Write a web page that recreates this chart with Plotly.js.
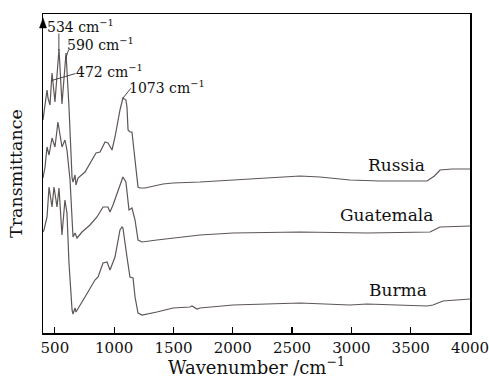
<!DOCTYPE html>
<html>
<head>
<meta charset="utf-8">
<script src="https://cdn.plot.ly/plotly-3.0.1.min.js"></script>
<style>html,body{margin:0;padding:0;background:#fff;}#chart{width:489px;height:378px;}</style>
</head>
<body>
<div id="chart"></div>
<script>
// Wavenumber (cm^-1) and relative transmittance (arbitrary, offset per sample)
const russiaWn = [400,417,434,442,459,476,501,535,560,594,619,645,653,670,678,695,754,847,881,923,948,982,1007,1049,1066,1074,1099,1108,1117,1133,1150,1176,1201,1218,1260,1412,1496,1724,2002,2339,2567,2735,2988,3241,3500,3638,3700,3747,3850,4000];
const russiaT  = [213,226,243,235,228,260,231,284,229,280,226,155,151,158,148,155,161,180,181,191,190,183,196,223,233,235,233,226,203,201,201,173,146,145,145,149,150,151,153,156,157,156,153,152,152,152,157,163,164,164];

const guatemalaWn = [400,417,434,451,476,501,526,560,585,602,628,653,670,687,729,796,855,906,948,965,990,1024,1066,1074,1099,1125,1150,1176,1201,1235,1360,1724,2002,2567,3132,3663,3747,4000];
const guatemalaT  = [155,166,186,178,195,186,211,186,193,183,153,96,100,95,101,108,116,126,126,121,128,140,153,156,151,123,125,113,93,91,93,98,100,101,100,101,106,107];

const burmaWn = [400,408,434,451,476,493,518,535,560,585,602,619,645,653,670,678,754,838,864,906,940,965,1007,1049,1066,1074,1108,1133,1159,1176,1201,1235,1360,1496,1639,1656,1698,1724,2002,2567,2988,3132,3638,3688,3772,4000];
const burmaT  = [101,103,116,146,126,146,126,145,98,133,120,70,23,19,25,21,36,53,56,70,71,63,76,103,106,105,76,56,55,36,20,18,21,25,26,27,24,25,28,30,28,29,27,28,32,34];

const sampleNames = ['Russia','Guatemala','Burma'];
const xTicks = [500,1000,1500,2000,2500,3000,3500,4000];
const peakWn = [534,590,472,1073];
const peakLabels = ['534 cm<sup>−1</sup>','590 cm<sup>−1</sup>','472 cm<sup>−1</sup>','1073 cm<sup>−1</sup>'];

const lineStyle = {color:'#5e5656', width:1.2};
const traces = [
  {x:russiaWn, y:russiaT, mode:'lines', line:lineStyle, name:sampleNames[0]},
  {x:guatemalaWn, y:guatemalaT, mode:'lines', line:lineStyle, name:sampleNames[1]},
  {x:burmaWn, y:burmaT, mode:'lines', line:lineStyle, name:sampleNames[2]}
];

function valAt(xs, ys, x){
  for(let i=0;i<xs.length-1;i++){ if(x>=xs[i] && x<=xs[i+1]){ const t=(x-xs[i])/(xs[i+1]-xs[i]); return ys[i]+t*(ys[i+1]-ys[i]); } }
  return ys[ys.length-1];
}

const F = 'DejaVu Serif, Liberation Serif, serif';
const annotations = [];
const shapes = [];
// sample names
const nameX = [3384,3292,3393];
const nameY = [168,118,43];
sampleNames.forEach((n,i)=>annotations.push({x:nameX[i], y:nameY[i], xref:'x', yref:'y', text:n, showarrow:false, font:{family:F,size:17,color:'#111'}}));
// peak labels (pixel offsets from the peak) and leader lines
const labDx = [-14,-1,22,4];
const labDy = [25,15,10,11];
const leadDx = [0,3,24,8];
const leadDy = [17,9,7,10];
peakWn.forEach((w,i)=>{
  const y = valAt(russiaWn, russiaT, w);
  annotations.push({x:w, y:y, xref:'x', yref:'y', text:peakLabels[i], showarrow:false, xanchor:'left', yanchor:'middle', xshift:labDx[i], yshift:labDy[i], font:{family:F,size:14,color:'#111'}});
  shapes.push({type:'line', xref:'x', yref:'y', xsizemode:'pixel', ysizemode:'pixel', xanchor:w, yanchor:y, x0:0, x1:leadDx[i], y0:0, y1:leadDy[i], line:{color:'#333', width:0.9}});
});
// y-axis arrowhead
shapes.push({type:'path', xref:'paper', yref:'paper', xsizemode:'pixel', ysizemode:'pixel', xanchor:0, yanchor:1, path:'M -3.5,-14 L 0,-4 L 3.5,-14 Z', fillcolor:'#000', line:{color:'#000', width:0.5}});

const layout = {
  width:489, height:378,
  margin:{l:43, r:19, t:14, b:45},
  paper_bgcolor:'#fff', plot_bgcolor:'#fff',
  showlegend:false,
  font:{family:F, color:'#111'},
  xaxis:{range:[400,4000], tickvals:xTicks, ticktext:xTicks.map(String), ticks:'inside', ticklen:6, tickwidth:1.2, tickcolor:'#000',
    ticklabeloverflow:'allow',
    showline:true, linecolor:'#000', linewidth:1.5, mirror:true, showgrid:false, zeroline:false,
    tickfont:{family:F, size:15, color:'#111'},
    title:{text:'Wavenumber /cm<sup>−1</sup>', font:{family:F, size:18, color:'#111'}, standoff:4}},
  yaxis:{range:[0,319], showticklabels:false, ticks:'', showline:true, linecolor:'#000', linewidth:1.5, mirror:true, showgrid:false, zeroline:false,
    title:{text:'Transmittance', font:{family:F, size:17.5, color:'#111'}, standoff:14}},
  annotations:annotations,
  shapes:shapes
};
Plotly.newPlot('chart', traces, layout, {staticPlot:true, displayModeBar:false});
</script>
</body>
</html>
